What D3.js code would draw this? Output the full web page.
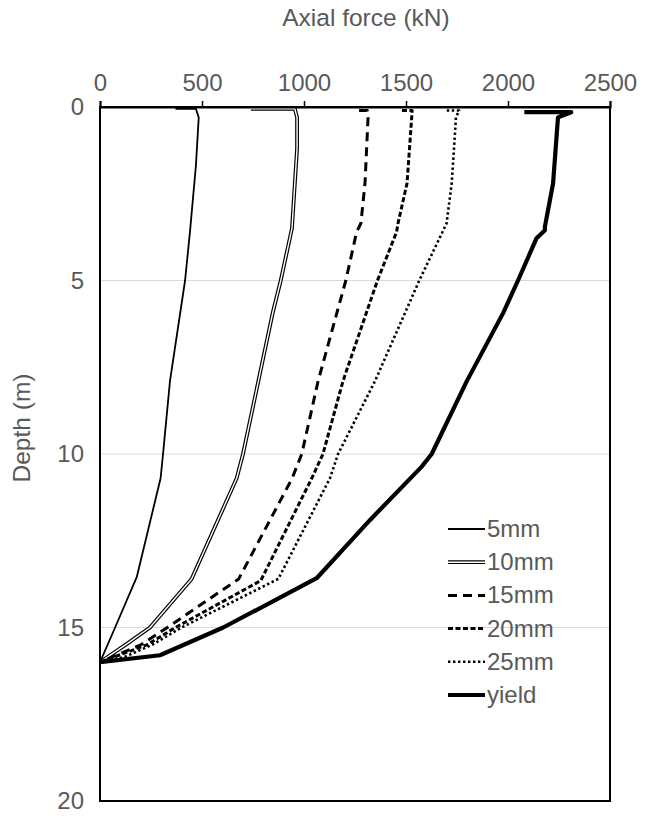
<!DOCTYPE html>
<html>
<head>
<meta charset="utf-8">
<script src="https://cdn.jsdelivr.net/npm/d3@7"></script>
<style>
  html, body { margin: 0; padding: 0; background: #fff; }
  svg { display: block; }
  text { font-family: "Liberation Sans", Arial, sans-serif; fill: #595959; }
</style>
</head>
<body>
<svg id="chart" width="645" height="816"></svg>
<script>
// ---- data: [depth (m), axial force (kN)] ----
const seriesNames = ["5mm", "10mm", "15mm", "20mm", "25mm", "yield"];
const s5mm = [[0.05,370],[0.05,470],[0.3,484],[1.7,470],[3.6,441],[5,417],[7.9,343],[10,309],[10.7,297],[13.55,180],[15,74],[16,0]];
const s10mm = [[0.05,740],[0.05,955],[0.3,966],[1.2,966],[3.5,941],[5,886],[5.9,848],[10,701],[10.7,670],[13.6,449],[15,245],[15.45,137],[16,0]];
const s15mm = [[0.1,1270],[0.1,1310],[0.3,1314],[2.2,1299],[3.35,1279],[3.6,1258],[5,1205],[7.9,1069],[10,989],[10.7,942],[13.6,680],[15,330],[15.5,200],[16,0]];
const s20mm = [[0.1,1480],[0.1,1530],[0.3,1528],[2.2,1505],[3.35,1461],[3.6,1454],[5,1360],[7.9,1191],[10,1093],[10.7,1038],[13.65,788],[15,370],[15.5,230],[16,0]];
const s25mm = [[0.1,1700],[0.1,1760],[0.3,1745],[2.2,1724],[3.35,1699],[3.65,1675],[5,1565],[7.9,1348],[10,1167],[10.7,1127],[13.6,874],[15,400],[15.5,255],[15.85,120],[16,0]];
const sYield = [[0.15,2080],[0.15,2310],[0.3,2245],[2.2,2221],[3.45,2181],[3.55,2181],[3.78,2140],[5,2049],[5.94,1976],[7.9,1798],[10,1626],[10.37,1576],[11.9,1324],[13.58,1062],[15,604],[15.8,294],[16,0]];
const xTicks = [0, 500, 1000, 1500, 2000, 2500];
const yTicks = [0, 5, 10, 15, 20];
const xTitle = "Axial force (kN)";
const yTitle = "Depth (m)";

const seriesData = [s5mm, s10mm, s15mm, s20mm, s25mm, sYield];
const styles = [
  { w: 1.8, dash: null, cap: "butt" },
  { w: 3.8, dash: null, inner: 1.4, cap: "butt" },
  { w: 3, dash: "9,6", cap: "butt" },
  { w: 3, dash: "5,2.5", cap: "butt" },
  { w: 2.6, dash: "2.4,2.6", cap: "butt" },
  { w: 4.2, dash: null, cap: "butt" }
];

const svg = d3.select("#chart");
const L = 100, R = 610, T = 107, B = 801;
const x = d3.scaleLinear().domain([0, 2500]).range([L, R]);
const y = d3.scaleLinear().domain([0, 20]).range([T, B]);

// gridlines
svg.append("g").selectAll("line").data(yTicks.filter(d => d > 0 && d < 20)).join("line")
  .attr("x1", L).attr("x2", R).attr("y1", d => y(d)).attr("y2", d => y(d))
  .attr("stroke", "#d9d9d9").attr("stroke-width", 1);

// clip
svg.append("clipPath").attr("id", "clip").append("rect")
  .attr("x", L).attr("y", T - 2).attr("width", R - L).attr("height", B - T + 2);

const line = d3.line().x(d => x(d[1])).y(d => y(d[0]));
const plot = svg.append("g").attr("clip-path", "url(#clip)");
seriesData.forEach((data, i) => {
  const st = styles[i];
  plot.append("path").datum(data).attr("d", line)
    .attr("fill", "none").attr("stroke", "#000").attr("stroke-width", st.w)
    .attr("stroke-dasharray", st.dash).attr("stroke-linejoin", "round");
  if (st.inner) {
    plot.append("path").datum(data).attr("d", line)
      .attr("fill", "none").attr("stroke", "#fff").attr("stroke-width", st.inner)
      .attr("stroke-linejoin", "round");
  }
});

// frame
svg.append("rect").attr("x", L).attr("y", T).attr("width", R - L).attr("height", B - T)
  .attr("fill", "none").attr("stroke", "#000").attr("stroke-width", 2);

// top axis
const xAxis = d3.axisTop(x).tickValues(xTicks).tickSize(6).tickPadding(10).tickFormat(d3.format("d"));
const gx = svg.append("g").attr("transform", `translate(0,${T})`).call(xAxis);
gx.select(".domain").attr("stroke", "#000").attr("stroke-width", 2);
gx.selectAll(".tick line").attr("stroke", "#000").attr("stroke-width", 1.5);
gx.selectAll(".tick text").attr("font-size", 24).attr("fill", "#595959")
  .style("font-family", "'Liberation Sans', Arial, sans-serif");

// left axis
const yAxis = d3.axisLeft(y).tickValues(yTicks).tickSize(0).tickPadding(16).tickFormat(d3.format("d"));
const gy = svg.append("g").attr("transform", `translate(${L},0)`).call(yAxis);
gy.select(".domain").remove();
gy.selectAll(".tick text").attr("font-size", 24).attr("fill", "#595959")
  .style("font-family", "'Liberation Sans', Arial, sans-serif");

// titles
svg.append("text").attr("x", 366).attr("y", 26).attr("text-anchor", "middle")
  .attr("font-size", 24.5).text(xTitle);
svg.append("text").attr("transform", "translate(30,428) rotate(-90)").attr("text-anchor", "middle")
  .attr("font-size", 24.5).text(yTitle);

// legend
const lg = svg.append("g");
seriesNames.forEach((name, i) => {
  const cy = 529 + i * 33.2;
  const st = styles[i];
  lg.append("line").attr("x1", 448).attr("x2", 485).attr("y1", cy).attr("y2", cy)
    .attr("stroke", "#000").attr("stroke-width", st.w).attr("stroke-dasharray", st.dash);
  if (st.inner) {
    lg.append("line").attr("x1", 448).attr("x2", 485).attr("y1", cy).attr("y2", cy)
      .attr("stroke", "#fff").attr("stroke-width", st.inner);
  }
  lg.append("text").attr("x", 487).attr("y", cy + 8).attr("font-size", 24).text(name);
});
</script>
</body>
</html>
